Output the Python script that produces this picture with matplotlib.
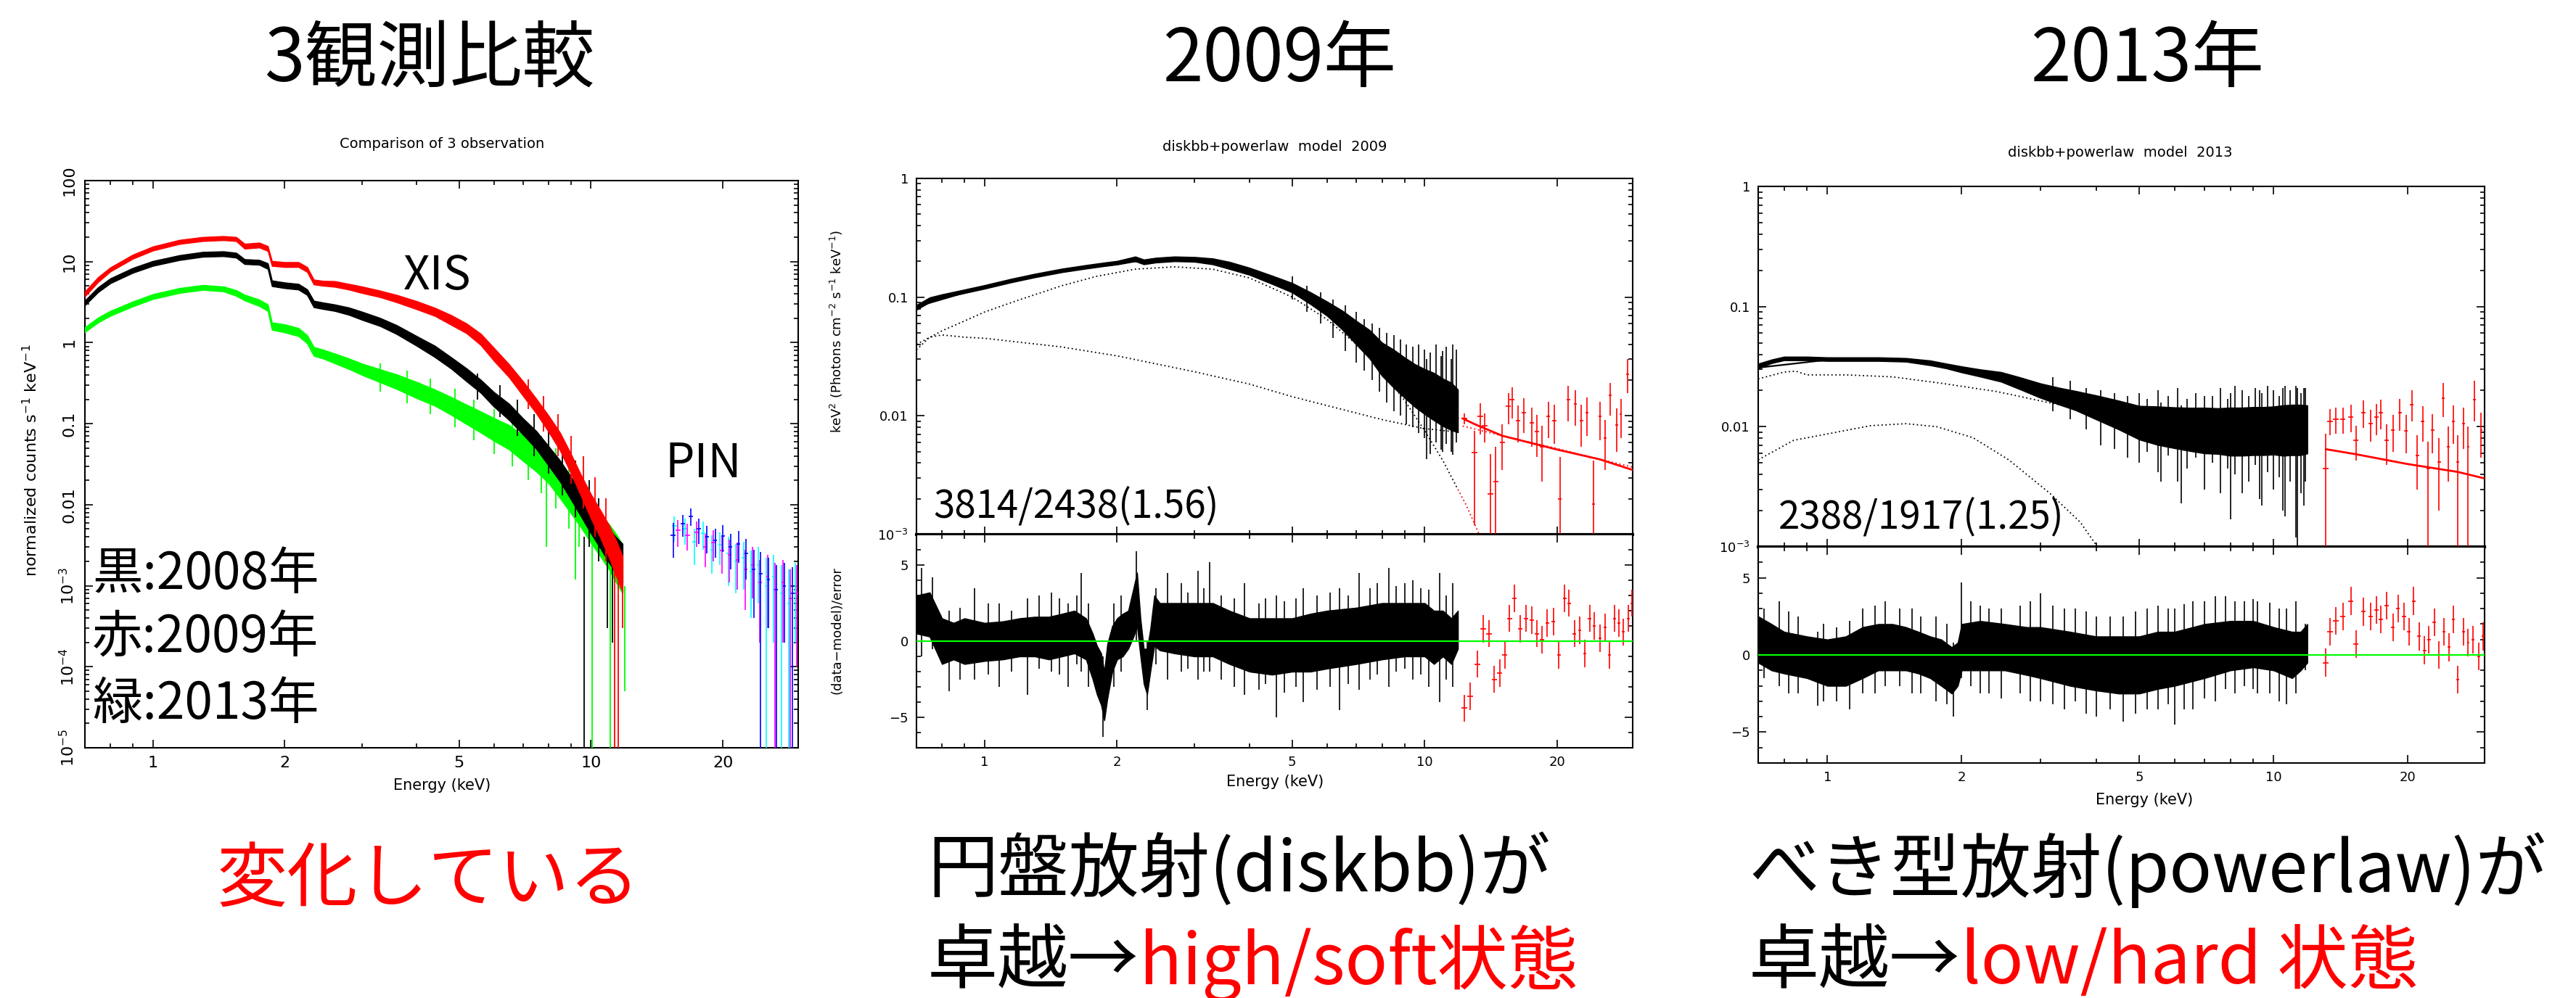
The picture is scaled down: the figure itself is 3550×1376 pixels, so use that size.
import numpy as np
import matplotlib
matplotlib.use('Agg')
import matplotlib.pyplot as plt
from matplotlib.ticker import LogLocator, NullFormatter, MultipleLocator
from matplotlib.transforms import Bbox

W, H = 3550, 1376
CJK = ['Noto Sans CJK JP', 'DejaVu Sans']

# ---------------- left panel: 3 observations (counts) ----------------
XIS_E = [0.70, 0.75, 0.80, 0.90, 1.00, 1.15, 1.30, 1.45, 1.55, 1.62, 1.75, 1.83, 1.87, 2.00,
         2.15, 2.25, 2.33, 2.45, 2.60, 2.80, 3.00, 3.30, 3.60, 4.00, 4.40, 4.80, 5.20, 5.60,
         6.00, 6.50, 7.00, 7.50, 8.00, 8.50, 9.00, 9.50, 10.0, 10.5, 11.0, 11.4, 11.8]
RED_V = [4.0, 6.0, 8.0, 11.5, 14.5, 17.5, 19.0, 19.5, 19.0, 15.5, 16.0, 14.5, 9.5, 9.2,
         9.2, 8.0, 5.6, 5.4, 5.3, 4.9, 4.5, 4.0, 3.5, 2.9, 2.4, 1.9, 1.5, 1.1,
         0.72, 0.45, 0.27, 0.165, 0.10, 0.06, 0.032, 0.017, 0.0095, 0.0058, 0.0035, 0.0022, 0.0014]
BLACK_V = [3.1, 4.5, 5.8, 7.8, 9.5, 11.2, 12.3, 12.5, 12.0, 10.0, 9.8, 8.8, 5.4, 5.1,
           4.9, 4.2, 3.0, 2.85, 2.7, 2.45, 2.15, 1.8, 1.45, 1.05, 0.78, 0.56, 0.40, 0.29,
           0.20, 0.14, 0.092, 0.063, 0.040, 0.026, 0.016, 0.010, 0.0065, 0.0045, 0.0031, 0.0024, 0.0019]
GREEN_V = [1.45, 1.9, 2.3, 3.0, 3.7, 4.4, 4.8, 4.6, 4.1, 3.6, 3.1, 2.7, 1.6, 1.5,
           1.35, 1.1, 0.78, 0.72, 0.64, 0.55, 0.47, 0.39, 0.33, 0.26, 0.21, 0.165, 0.13, 0.105,
           0.085, 0.068, 0.050, 0.038, 0.028, 0.019, 0.013, 0.009, 0.006, 0.0042, 0.003, 0.0022, 0.0016]
# half-width of the scatter band (dex)
RED_S = [0.03, 0.03, 0.025, 0.025, 0.025, 0.025, 0.025, 0.025, 0.025, 0.03, 0.03, 0.03, 0.03, 0.03,
         0.03, 0.03, 0.03, 0.03, 0.035, 0.035, 0.04, 0.04, 0.045, 0.05, 0.05, 0.06, 0.06, 0.07,
         0.08, 0.08, 0.09, 0.09, 0.1, 0.11, 0.12, 0.13, 0.15, 0.17, 0.2, 0.22, 0.22]
BLACK_S = [0.03, 0.03, 0.03, 0.03, 0.03, 0.03, 0.03, 0.03, 0.03, 0.03, 0.03, 0.035, 0.035, 0.035,
           0.035, 0.035, 0.04, 0.04, 0.04, 0.045, 0.05, 0.05, 0.055, 0.06, 0.07, 0.07, 0.08, 0.08,
           0.09, 0.1, 0.1, 0.11, 0.12, 0.13, 0.14, 0.15, 0.17, 0.19, 0.21, 0.22, 0.24]
GREEN_S = [0.03, 0.03, 0.03, 0.03, 0.03, 0.03, 0.03, 0.03, 0.035, 0.035, 0.04, 0.04, 0.045, 0.05,
           0.05, 0.05, 0.055, 0.055, 0.06, 0.065, 0.07, 0.08, 0.09, 0.1, 0.1, 0.11, 0.12, 0.13,
           0.14, 0.15, 0.16, 0.17, 0.18, 0.2, 0.22, 0.24, 0.25, 0.26, 0.28, 0.3, 0.3]
# individual error bars sticking out of the bands (E, low, high)
BLACK_SPK_E = [9.65, 10.9, 11.2, 5.5, 6.2, 6.8, 7.4, 8.0, 8.6, 9.2, 9.9, 10.4]
BLACK_SPK_LO = [1e-5, 3e-4, 2e-4, 0.2, 0.12, 0.07, 0.04, 0.024, 0.013, 0.007, 0.003, 0.002]
BLACK_SPK_HI = [0.004, 0.003, 0.002, 0.42, 0.3, 0.2, 0.13, 0.085, 0.055, 0.035, 0.02, 0.012]
GREEN_SPK_E = [7.9, 9.2, 10.05, 11.05, 11.95, 3.3, 3.8, 4.3, 4.9, 5.4, 6.0, 6.6, 7.2, 7.7, 8.3, 8.9, 9.4]
GREEN_SPK_LO = [0.003, 0.0012, 1e-5, 1e-5, 5e-5, 0.25, 0.18, 0.13, 0.09, 0.062, 0.042, 0.03, 0.02, 0.014, 0.009, 0.005, 0.003]
GREEN_SPK_HI = [0.03, 0.01, 0.004, 0.002, 0.001, 0.55, 0.45, 0.36, 0.27, 0.2, 0.15, 0.12, 0.09, 0.07, 0.05, 0.035, 0.025]
RED_SPK_E = [11.3, 11.55, 11.8, 7.2, 7.8, 8.4, 9.0, 9.6, 10.2, 10.8]
RED_SPK_LO = [1e-5, 1e-5, 3e-4, 0.15, 0.08, 0.04, 0.018, 0.009, 0.004, 0.002]
RED_SPK_HI = [0.004, 0.003, 0.002, 0.35, 0.22, 0.13, 0.07, 0.04, 0.022, 0.012]

PIN_XERR = 0.2
BLUE_E = [15.4, 16.2, 16.9, 17.6, 18.4, 19.2, 20.0, 20.8, 21.7, 22.6, 23.5, 24.4, 25.4, 26.5, 27.6, 28.8]
BLUE_V = [0.0042, 0.0058, 0.0072, 0.0050, 0.0040, 0.0036, 0.0041, 0.0030, 0.0033, 0.0025, 0.0016, 0.0014, 0.0012, 0.0009, 0.0010, 0.0008]
BLUE_LO = [0.0022, 0.0040, 0.0055, 0.0033, 0.0025, 0.0022, 0.0026, 0.0016, 0.0019, 0.0012, 0.0004, 1e-5, 0.0003, 1e-5, 0.0002, 1e-5]
BLUE_HI = [0.0060, 0.0075, 0.0090, 0.0068, 0.0055, 0.0050, 0.0056, 0.0044, 0.0047, 0.0038, 0.0028, 0.0026, 0.0022, 0.0018, 0.0019, 0.0017]
CYAN_E = [15.5, 16.4, 17.2, 18.0, 18.9, 19.7, 20.6, 21.4, 22.3, 23.2, 24.1, 25.1, 26.1, 27.2, 28.3, 29.3]
CYAN_V = [0.0055, 0.0050, 0.0035, 0.0045, 0.0028, 0.0032, 0.0025, 0.0020, 0.0022, 0.0015, 0.0018, 0.0010, 0.0013, 0.0008, 0.0006, 0.0009]
CYAN_LO = [0.0035, 0.0032, 0.0018, 0.0028, 0.0014, 0.0018, 0.0010, 0.0008, 0.0009, 0.0004, 0.0006, 1e-5, 0.0002, 1e-5, 1e-5, 0.0002]
CYAN_HI = [0.0072, 0.0068, 0.0050, 0.0062, 0.0042, 0.0046, 0.0040, 0.0033, 0.0035, 0.0027, 0.0030, 0.0022, 0.0024, 0.0018, 0.0016, 0.0019]
MAG_E = [15.8, 16.6, 17.4, 18.2, 19.0, 19.9, 20.7, 21.6, 22.5, 23.4, 24.3, 25.3, 26.3, 27.4, 28.5, 29.5]
MAG_V = [0.0048, 0.0042, 0.0046, 0.0030, 0.0034, 0.0027, 0.0024, 0.0021, 0.0016, 0.0018, 0.0011, 0.0013, 0.0009, 0.0011, 0.0007, 0.0008]
MAG_LO = [0.0030, 0.0027, 0.0030, 0.0017, 0.0020, 0.0014, 0.0011, 0.0009, 0.0005, 0.0007, 0.0002, 0.0003, 1e-5, 0.0002, 1e-5, 0.0001]
MAG_HI = [0.0065, 0.0058, 0.0062, 0.0044, 0.0048, 0.0040, 0.0037, 0.0034, 0.0028, 0.0030, 0.0021, 0.0024, 0.0019, 0.0021, 0.0016, 0.0018]

# ---------------- middle panel: 2009 fit ----------------
MID_E = [0.70, 0.75, 0.80, 0.90, 1.00, 1.15, 1.30, 1.50, 1.70, 1.85, 2.00, 2.20, 2.30, 2.45, 2.70, 3.00, 3.30, 3.60,
         4.00, 4.50, 5.00, 5.50, 6.00, 6.50, 7.00, 7.50, 8.00, 8.50, 9.00, 9.50, 10.0, 10.5, 11.0, 11.5, 11.9]
MID_V = [0.082, 0.095, 0.102, 0.112, 0.122, 0.138, 0.152, 0.168, 0.180, 0.188, 0.195, 0.210, 0.198, 0.205, 0.210, 0.208, 0.200, 0.185,
         0.165, 0.140, 0.120, 0.098, 0.080, 0.064, 0.050, 0.040, 0.030, 0.025, 0.021, 0.018, 0.016, 0.0145, 0.013, 0.012, 0.011]
MID_S = [0.02, 0.02, 0.015, 0.015, 0.015, 0.015, 0.015, 0.015, 0.015, 0.015, 0.015, 0.02, 0.02, 0.02, 0.02, 0.02, 0.025, 0.03,
         0.03, 0.035, 0.04, 0.05, 0.06, 0.08, 0.1, 0.12, 0.14, 0.16, 0.17, 0.18, 0.19, 0.2, 0.2, 0.2, 0.18]
MID_SPK_E = [5.0, 5.4, 5.8, 6.2, 6.6, 7.0, 7.3, 7.6, 7.9, 8.2, 8.5, 8.8, 9.1, 9.4, 9.7, 10.0, 10.3, 10.6,
             10.9, 11.2, 11.5, 11.8, 10.1, 11.0, 11.6]
MID_SPK_LO = [0.095, 0.075, 0.06, 0.045, 0.035, 0.028, 0.024, 0.02, 0.016, 0.013, 0.011, 0.01, 0.0085, 0.008, 0.0072, 0.0065,
              0.0048, 0.006, 0.0052, 0.0058, 0.005, 0.006, 0.0043, 0.005, 0.0047]
MID_SPK_HI = [0.15, 0.125, 0.11, 0.095, 0.085, 0.075, 0.065, 0.06, 0.055, 0.05, 0.048, 0.044, 0.04, 0.038, 0.04, 0.036,
              0.034, 0.04, 0.032, 0.038, 0.03, 0.036, 0.03, 0.035, 0.04]
MID_MOD_E = [0.70, 1.00, 1.50, 2.00, 2.50, 3.00, 3.50, 4.00, 5.00, 6.00, 7.00, 8.00, 9.00, 10.0, 11.0, 11.9]
MID_MOD_V = [0.083, 0.122, 0.166, 0.196, 0.205, 0.207, 0.195, 0.172, 0.120, 0.078, 0.050, 0.032, 0.021, 0.015, 0.0115, 0.0095]
MID_DISK_E = [0.70, 0.80, 0.90, 1.00, 1.20, 1.50, 1.80, 2.20, 2.70, 3.30, 4.00, 5.00, 6.00, 7.00, 8.00, 9.00, 10.0, 11.0, 11.9]
MID_DISK_V = [0.040, 0.052, 0.063, 0.075, 0.095, 0.125, 0.150, 0.172, 0.180, 0.172, 0.145, 0.100, 0.065, 0.040, 0.024, 0.0135, 0.0075, 0.0042, 0.0024]
MID_PL_E = [0.70, 0.75, 0.80, 0.90, 1.00, 1.50, 2.00, 3.00, 4.00, 5.00, 6.00, 8.00, 10.0, 11.9]
MID_PL_V = [0.036, 0.046, 0.048, 0.046, 0.045, 0.038, 0.032, 0.0235, 0.0185, 0.0145, 0.0122, 0.0093, 0.0078, 0.0073]
MID_PIN_MOD_E = [12.2, 13.0, 15.0, 20.0, 25.0, 29.7]
MID_PIN_MOD_V = [0.0095, 0.0085, 0.0068, 0.0052, 0.0043, 0.0035]
MID_PIN_PL_E = [12.2, 15.0, 20.0, 25.0, 29.7]
MID_PIN_PL_V = [0.0082, 0.0068, 0.0053, 0.0043, 0.0037]
MID_PIN_DISK_E = [11.9, 12.4, 12.9, 13.3]
MID_PIN_DISK_V = [0.0024, 0.0018, 0.0013, 0.0010]
MID_PIN_E = [12.3, 13.0, 13.4, 13.7, 14.1, 14.5, 15.0, 15.5, 15.8, 16.3, 16.8, 17.5, 18.0, 18.5,
             19.1, 19.7, 20.3, 21.2, 22.0, 22.7, 23.4, 24.2, 25.0, 25.7, 26.4, 27.3, 27.9, 28.9]
MID_PIN_V = [0.0095, 0.0049, 0.0099, 0.0082, 0.0022, 0.0028, 0.0060, 0.0120, 0.0137, 0.0091, 0.0106, 0.0087, 0.0074, 0.0055,
             0.0099, 0.0091, 0.0020, 0.0137, 0.0126, 0.0091, 0.0106, 0.0018, 0.0099, 0.0065, 0.0148, 0.0084, 0.0103, 0.0224]
MID_PIN_LO = [0.0085, 0.0012, 0.0070, 0.0060, 0.0010, 0.0010, 0.0035, 0.0085, 0.0095, 0.0060, 0.0072, 0.0055, 0.0045, 0.0028,
              0.0065, 0.0058, 0.0010, 0.0090, 0.0082, 0.0055, 0.0068, 0.0010, 0.0062, 0.0035, 0.0100, 0.0050, 0.0065, 0.0155]
MID_PIN_HI = [0.0105, 0.0075, 0.0128, 0.0105, 0.0048, 0.0055, 0.0085, 0.0155, 0.0175, 0.0122, 0.0140, 0.0118, 0.0102, 0.0082,
              0.0132, 0.0124, 0.0045, 0.0178, 0.0165, 0.0124, 0.0142, 0.0042, 0.0132, 0.0092, 0.0190, 0.0115, 0.0138, 0.0300]
# residuals
MID_RES_E = [0.70, 0.75, 0.80, 0.85, 0.90, 1.00, 1.10, 1.20, 1.30, 1.40, 1.50, 1.60, 1.70, 1.76, 1.80, 1.84,
             1.87, 1.90, 1.95, 2.00, 2.06, 2.12, 2.18, 2.22, 2.26, 2.30, 2.34, 2.38, 2.43, 2.50, 2.70, 3.00,
             3.30, 3.60, 4.00, 4.50, 5.00, 5.50, 6.00, 7.00, 8.00, 9.00, 10.0, 10.5, 11.0, 11.5, 11.9]
MID_RES_LO = [0.5, 0.3, -1.5, -1.2, -1.5, -1.3, -1.2, -1.0, -1.0, -1.2, -1.0, -0.8, -1.2, -2.5, -3.5, -4.2,
              -5.2, -3.8, -2.0, -1.2, -1.0, -0.5, 0.3, 1.0, -1.0, -2.8, -3.5, -2.0, -0.3, -0.6, -0.8, -1.0,
              -1.0, -1.5, -2.0, -2.2, -2.0, -2.0, -1.8, -1.5, -1.2, -1.0, -1.0, -1.5, -1.0, -1.5, -0.5]
MID_RES_HI = [3.0, 3.2, 1.5, 1.2, 1.5, 1.2, 1.3, 1.5, 1.6, 1.6, 1.8, 2.0, 1.5, 0.5, -0.3, -0.8,
              -2.0, -0.2, 1.0, 1.5, 1.8, 2.0, 3.5, 4.5, 1.5, -0.5, -0.5, 0.8, 3.0, 2.5, 2.5, 2.5,
              2.5, 2.0, 1.5, 1.5, 1.5, 1.8, 2.0, 2.2, 2.5, 2.5, 2.5, 2.0, 2.0, 1.5, 2.0]
MID_RES_SPK_E = [0.72, 0.76, 0.83, 0.95, 1.08, 1.25, 1.42, 1.55, 1.66, 1.86, 2.21, 2.34,
                 2.6, 3.05, 3.25, 3.9, 4.6, 5.3, 6.4, 7.1, 8.3, 9.4, 10.8, 11.6,
                 0.88, 1.02, 1.15, 1.33, 1.48, 1.62, 1.72, 1.97, 2.04, 2.45, 2.8, 2.9, 3.15, 3.45, 3.7,
                 4.2, 4.35, 4.8, 5.1, 5.7, 6.1, 6.7, 7.5, 7.8, 8.6, 9.0, 9.8, 10.2, 11.2]
MID_RES_SPK_LO = [-1.0, -0.5, -3.3, -2.5, -3.0, -3.5, -2.0, -3.0, -2.0, -6.3, 0.0, -4.5,
                  -2.5, -2.5, -2.0, -3.5, -5.0, -4.0, -4.5, -3.2, -3.0, -2.5, -4.0, -3.0,
                  -2.5, -2.2, -2.0, -1.8, -2.2, -1.5, -3.0, -3.0, -2.0, -1.5, -2.0, -1.8, -2.0, -2.5, -3.0,
                  -3.2, -2.8, -3.4, -3.0, -3.2, -3.0, -2.8, -2.5, -2.2, -2.0, -1.8, -2.2, -3.0, -2.5]
MID_RES_SPK_HI = [4.8, 4.2, 2.0, 3.5, 2.5, 2.8, 3.2, 2.5, 4.5, -1.0, 5.9, 0.0,
                  4.5, 4.6, 5.2, 3.8, 3.0, 3.5, 3.5, 4.5, 4.8, 4.0, 4.5, 3.8,
                  2.2, 2.5, 2.0, 3.0, 2.8, 3.0, 2.5, 2.5, 3.0, 3.5, 3.8, 3.2, 3.5, 3.0, 2.8,
                  2.5, 2.8, 2.6, 2.8, 3.0, 3.2, 3.0, 3.5, 3.8, 3.6, 3.8, 3.5, 3.4, 3.0]
MID_RES_PIN_E = [12.3, 12.7, 13.2, 13.6, 14.0, 14.4, 14.8, 15.2, 15.6, 16.0, 16.5, 17.0, 17.5, 18.0, 18.5, 19.0, 19.6,
                 20.2, 20.8, 21.3, 21.9, 22.5, 23.1, 23.7, 24.3, 25.0, 25.7, 26.3, 27.0, 27.6, 28.3, 29.0, 29.6]
MID_RES_PIN_V = [-4.4, -3.6, -1.5, 0.8, 0.5, -2.5, -2.1, -0.9, 1.5, 2.8, 0.8, 1.5, 1.4, 0.5, 0.1, 1.2, 1.3,
                 -0.9, 2.8, 2.5, 0.5, 0.7, -0.8, 1.5, 1.0, 0.2, 0.9, -0.9, 1.5, 1.2, 0.6, 1.5, 2.5]
RES_PIN_ERR = 0.9

# ---------------- right panel: 2013 fit ----------------
RGT_E = [0.70, 0.75, 0.80, 0.90, 1.00, 1.15, 1.30, 1.50, 1.70, 1.85, 2.00, 2.20, 2.45, 2.70, 3.00, 3.30, 3.60,
         4.00, 4.50, 5.00, 5.50, 6.00, 6.50, 7.00, 7.50, 8.00, 8.50, 9.00, 9.50, 10.0, 10.5, 11.0, 11.5, 11.9]
RGT_V = [0.032, 0.035, 0.037, 0.037, 0.0365, 0.0365, 0.0365, 0.036, 0.034, 0.032, 0.030, 0.028, 0.026, 0.023, 0.020, 0.018, 0.0165,
         0.0145, 0.0125, 0.0108, 0.0102, 0.0098, 0.0095, 0.0093, 0.0092, 0.0091, 0.0091, 0.0092, 0.0092, 0.0093, 0.0093, 0.0094, 0.0094, 0.0095]
RGT_S = [0.02, 0.015, 0.015, 0.015, 0.015, 0.015, 0.015, 0.015, 0.02, 0.02, 0.025, 0.03, 0.04, 0.05, 0.06, 0.07, 0.08,
         0.1, 0.12, 0.14, 0.16, 0.17, 0.18, 0.19, 0.19, 0.2, 0.2, 0.2, 0.2, 0.2, 0.21, 0.21, 0.21, 0.2]
RGT_SPK_E = [5.6, 6.2, 7.0, 8.0, 8.5, 9.3, 10.5, 11.3, 11.7,
             3.2, 3.5, 3.8, 4.1, 4.4, 4.7, 5.0, 5.2, 5.5, 5.8, 6.1, 6.4, 6.7, 7.3, 7.6, 7.9,
             8.2, 8.8, 9.1, 9.4, 9.7, 10.0, 10.3, 10.6, 10.9, 11.2, 11.5, 11.8]
RGT_SPK_LO = [0.0035, 0.0023, 0.003, 0.0017, 0.0028, 0.0025, 0.002, 0.001, 0.0022,
              0.0135, 0.0115, 0.0095, 0.007, 0.0065, 0.0055, 0.005, 0.0062, 0.0042, 0.0058, 0.0035, 0.0045, 0.0055,
              0.005, 0.0028, 0.0045, 0.004, 0.0035, 0.0048, 0.0022, 0.0042, 0.003, 0.0038, 0.0018, 0.0035, 0.0012,
              0.0028, 0.0035]
RGT_SPK_HI = [0.016, 0.015, 0.018, 0.019, 0.02, 0.02, 0.021, 0.021, 0.021,
              0.026, 0.024, 0.021, 0.02, 0.019, 0.018, 0.019, 0.017, 0.02, 0.018, 0.021, 0.017, 0.019,
              0.018, 0.021, 0.017, 0.022, 0.018, 0.021, 0.019, 0.022, 0.02, 0.018, 0.022, 0.02, 0.022,
              0.019, 0.021]
RGT_MOD_E = [0.70, 1.00, 1.50, 2.00, 3.00, 4.00, 5.00, 6.00, 8.00, 10.0, 11.9]
RGT_MOD_V = [0.031, 0.036, 0.0365, 0.031, 0.0215, 0.015, 0.012, 0.0105, 0.0085, 0.0072, 0.0062]
RGT_PL_E = [0.70, 0.80, 0.85, 0.90, 1.10, 1.40, 1.80, 2.40, 3.10, 4.10, 5.30, 6.90, 9.00, 11.9]
RGT_PL_V = [0.025, 0.0285, 0.029, 0.027, 0.027, 0.026, 0.023, 0.0196, 0.016, 0.0131, 0.0106, 0.009, 0.0077, 0.0062]
RGT_DISK_E = [0.70, 0.84, 1.00, 1.25, 1.50, 1.76, 2.12, 2.55, 3.15, 3.69, 4.03]
RGT_DISK_V = [0.0053, 0.0077, 0.0087, 0.0102, 0.0106, 0.0100, 0.0081, 0.0053, 0.0028, 0.0016, 0.0010]
RGT_PIN_MOD_E = [13.1, 15.3, 19.9, 25.9, 29.8]
RGT_PIN_MOD_V = [0.0065, 0.0059, 0.0049, 0.0042, 0.0037]
RGT_PIN_E = [13.1, 13.4, 13.8, 14.3, 14.9, 15.3, 15.9, 16.5, 17.0, 17.4, 17.9, 18.5, 19.2, 19.8,
             20.4, 21.0, 21.6, 22.2, 22.7, 23.5, 24.0, 24.6, 25.3, 25.9, 26.6, 27.3, 28.2, 29.2]
RGT_PIN_V = [0.0045, 0.0111, 0.0115, 0.0115, 0.0120, 0.0077, 0.0131, 0.0106, 0.0120, 0.0131, 0.0077, 0.0094, 0.0131, 0.0093,
             0.0153, 0.0058, 0.0111, 0.0045, 0.0094, 0.0051, 0.0173, 0.0068, 0.0111, 0.0051, 0.0106, 0.0068, 0.0167, 0.0094]
RGT_PIN_LO = [0.0010, 0.0085, 0.0088, 0.0088, 0.0090, 0.0052, 0.0098, 0.0075, 0.0085, 0.0095, 0.0048, 0.0062, 0.0092, 0.0060,
              0.0110, 0.0030, 0.0075, 0.0010, 0.0060, 0.0020, 0.0120, 0.0035, 0.0072, 0.0010, 0.0065, 0.0010, 0.0110, 0.0055]
RGT_PIN_HI = [0.0088, 0.0140, 0.0145, 0.0145, 0.0152, 0.0102, 0.0165, 0.0138, 0.0155, 0.0168, 0.0105, 0.0125, 0.0170, 0.0125,
              0.0200, 0.0085, 0.0148, 0.0075, 0.0128, 0.0080, 0.0230, 0.0100, 0.0150, 0.0085, 0.0145, 0.0100, 0.0240, 0.0130]
RGT_RES_E = [0.70, 0.75, 0.80, 0.90, 1.00, 1.10, 1.20, 1.30, 1.40, 1.50, 1.60, 1.70, 1.80, 1.90, 1.96, 2.00, 2.20,
             2.50, 2.80, 3.00, 3.50, 4.00, 4.50, 5.00, 5.50, 6.00, 7.00, 8.00, 9.00, 10.0, 11.0, 11.5, 11.9]
RGT_RES_LO = [-0.5, -1.0, -1.2, -1.5, -2.0, -2.0, -1.5, -1.0, -1.0, -1.0, -1.2, -1.5, -2.0, -2.5, -2.0, -1.0, -1.0,
              -1.0, -1.3, -1.5, -2.0, -2.3, -2.5, -2.5, -2.2, -2.0, -1.5, -1.0, -0.8, -1.0, -1.5, -1.0, -0.5]
RGT_RES_HI = [2.5, 2.0, 1.5, 1.2, 1.0, 1.2, 1.8, 2.0, 2.0, 1.8, 1.5, 1.2, 1.0, 0.5, 0.8, 2.0, 2.2,
              2.0, 1.8, 1.8, 1.5, 1.2, 1.2, 1.2, 1.5, 1.5, 2.0, 2.2, 2.2, 1.8, 1.5, 1.5, 2.0]
RGT_RES_SPK_E = [0.72, 0.78, 0.86, 0.95, 1.05, 1.2, 1.35, 1.55, 1.75, 1.92, 2.0, 2.3, 2.7,
                 3.0, 3.4, 4.0, 4.6, 5.2, 6.0, 6.6, 7.4, 8.2, 9.2, 10.3, 11.2, 11.8,
                 0.82, 0.98, 1.12, 1.28, 1.45, 1.62, 1.85, 2.1, 2.2, 2.45, 2.85, 3.2, 3.6,
                 3.8, 4.3, 4.9, 5.5, 5.8, 6.3, 7.0, 7.8, 8.6, 9.0, 9.8, 10.7]
RGT_RES_SPK_LO = [-1.5, -2.0, -2.5, -3.3, -3.0, -2.5, -2.0, -2.5, -3.0, -4.0, -1.5, -2.5, -2.5,
                  -3.0, -3.5, -4.0, -4.3, -3.5, -4.5, -3.5, -3.0, -2.5, -2.5, -3.0, -2.5, -1.0,
                  -2.5, -3.0, -3.5, -2.5, -2.0, -2.5, -3.2, -2.0, -2.5, -2.8, -3.0, -3.2, -3.0,
                  -3.8, -3.5, -3.8, -3.5, -3.2, -3.5, -2.8, -2.2, -2.0, -2.2, -2.5, -3.2]
RGT_RES_SPK_HI = [3.0, 3.5, 2.5, 1.5, 1.8, 3.0, 3.5, 3.0, 2.5, 0.8, 4.7, 3.0, 3.2,
                  4.0, 3.0, 2.5, 2.5, 3.0, 3.0, 3.5, 3.8, 3.5, 3.5, 3.0, 3.5, 2.0,
                  2.8, 2.0, 2.2, 3.2, 3.0, 2.5, 2.0, 3.5, 3.2, 3.0, 3.5, 3.2, 3.0,
                  2.8, 2.5, 2.8, 3.2, 3.0, 3.3, 3.5, 3.8, 3.5, 3.6, 3.4, 3.0]
RGT_RES_PIN_E = [13.1, 13.4, 13.8, 14.3, 14.9, 15.3, 15.9, 16.5, 17.0, 17.4, 17.9, 18.5, 19.0, 19.6, 20.1,
                 20.6, 21.2, 21.8, 22.3, 22.9, 23.5, 24.1, 24.7, 25.3, 25.9, 26.6, 27.3, 28.0, 28.8, 29.5]
RGT_RES_PIN_V = [-0.5, 1.5, 2.2, 2.5, 3.5, 0.7, 2.8, 2.5, 2.9, 2.3, 3.2, 1.8, 3.0, 2.5, 1.5,
                 3.5, 1.2, 0.3, 1.0, 2.1, 0.0, 1.5, 0.5, 2.3, -1.6, 1.5, 0.8, 1.0, -0.1, 1.2]

X_TICKS = [1, 2, 5, 10, 20]
X_LABELS = ['1', '2', '5', '10', '20']


def rect(x0, y0, x1, y1):
    return [x0 / W, 1 - y1 / H, (x1 - x0) / W, (y1 - y0) / H]


def style(ax, show_x=True, size=14):
    ax.set_xscale('log')
    ax.set_xlim(0.7, 29.7)
    ax.set_xticks(X_TICKS, X_LABELS if show_x else [''] * 5)
    ax.xaxis.set_minor_locator(LogLocator(base=10, subs=np.arange(2, 10), numticks=20))
    ax.xaxis.set_minor_formatter(NullFormatter())
    ax.tick_params(which='both', direction='in', top=True, right=True, width=1.2,
                   labelsize=size, pad=8)
    ax.tick_params(which='major', length=8)
    ax.tick_params(which='minor', length=4)
    for sp in ax.spines.values():
        sp.set_linewidth(1.5)


def log_y(ax, lo, hi, labels):
    ax.set_yscale('log')
    ax.set_ylim(lo, hi)
    ax.set_yticks([10.0 ** k for k in range(int(np.log10(lo)), int(np.log10(hi)) + 1)], labels)
    ax.yaxis.set_minor_locator(LogLocator(base=10, subs=np.arange(2, 10), numticks=20))
    ax.yaxis.set_minor_formatter(NullFormatter())


def band(ax, e, v, s, color):
    v = np.asarray(v)
    s = np.asarray(s)
    ax.fill_between(e, v / 10 ** s, v * 10 ** s, color=color, lw=1.0, zorder=3)


def resid_axes(ax):
    ax.set_ylim(-7, 7)
    ax.set_yticks([-5, 0, 5], ['\u22125', '0', '5'])
    ax.yaxis.set_minor_locator(MultipleLocator(1))
    ax.axhline(0, color='#00FF00', lw=1.6, zorder=5)


fig = plt.figure(figsize=(W / 100, H / 100), dpi=100)
bg = fig.add_axes([0, 0, 1, 1])
bg.axis('off')
bg.set_xlim(0, 1)
bg.set_ylim(0, 1)

# ---------------- left panel ----------------
axL = fig.add_axes(rect(117, 249, 1100, 1031))
style(axL, size=16)
log_y(axL, 1e-5, 100, ['10$^{-5}$', '10$^{-4}$', '10$^{-3}$', '0.01', '0.1', '1', '10', '100'])
axL.tick_params(axis='y', labelrotation=90)
for lab in axL.get_yticklabels():
    lab.set_verticalalignment('center')
band(axL, XIS_E, GREEN_V, GREEN_S, '#00FF00')
axL.vlines(GREEN_SPK_E, GREEN_SPK_LO, GREEN_SPK_HI, color='#00FF00', lw=1.3, zorder=3)
band(axL, XIS_E, BLACK_V, BLACK_S, 'black')
axL.vlines(BLACK_SPK_E, BLACK_SPK_LO, BLACK_SPK_HI, color='black', lw=1.3, zorder=3)
band(axL, XIS_E, RED_V, RED_S, '#FF0000')
axL.vlines(RED_SPK_E, RED_SPK_LO, RED_SPK_HI, color='#FF0000', lw=1.3, zorder=3)
for e, v, lo, hi, c in [(CYAN_E, CYAN_V, CYAN_LO, CYAN_HI, '#00FFFF'),
                        (MAG_E, MAG_V, MAG_LO, MAG_HI, '#FF00FF'),
                        (BLUE_E, BLUE_V, BLUE_LO, BLUE_HI, '#0000FF')]:
    v = np.asarray(v)
    axL.errorbar(e, v, yerr=[v - np.asarray(lo), np.asarray(hi) - v], xerr=PIN_XERR,
                 fmt='none', ecolor=c, elinewidth=1.2, zorder=4)

fig.text(609 / W, 1 - 198 / H, 'Comparison of 3 observation', ha='center', va='center', fontsize=14)
fig.text(43 / W, 1 - 635 / H, 'normalized counts s$^{-1}$ keV$^{-1}$', rotation=90,
         ha='center', va='center', fontsize=16)
fig.text(609 / W, 1 - 1083 / H, 'Energy (keV)', ha='center', va='center', fontsize=15)
fig.text(603 / W, 1 - 381 / H, 'XIS', ha='center', va='center', fontsize=46, family=CJK)
fig.text(969 / W, 1 - 640 / H, 'PIN', ha='center', va='center', fontsize=46, family=CJK)
for yy, s in [(792, '黒:2008年'), (880, '赤:2009年'), (971, '緑:2013年')]:
    fig.text(127 / W, 1 - yy / H, s, ha='left', va='center', fontsize=50, family=CJK)

# ---------------- middle panel ----------------
axM = fig.add_axes(rect(1263, 246, 2250, 737))
axMr = fig.add_axes(rect(1263, 737, 2250, 1031))
style(axM, show_x=False, size=13)
style(axMr, size=13)
log_y(axM, 1e-3, 1, ['10$^{-3}$', '0.01', '0.1', '1'])
axM.spines['bottom'].set_linewidth(3)
band(axM, MID_E, MID_V, MID_S, 'black')
axM.vlines(MID_SPK_E, MID_SPK_LO, MID_SPK_HI, color='black', lw=1.2, zorder=4)
axM.plot(MID_MOD_E, MID_MOD_V, color='black', lw=1.6, zorder=5)
axM.plot(MID_DISK_E, MID_DISK_V, color='black', lw=1.3, ls=(0, (1, 2)), zorder=4)
axM.plot(MID_PL_E, MID_PL_V, color='black', lw=1.3, ls=(0, (1, 2)), zorder=4)
axM.plot(MID_PIN_MOD_E, MID_PIN_MOD_V, color='#FF0000', lw=2.0, zorder=5)
axM.plot(MID_PIN_PL_E, MID_PIN_PL_V, color='#FF0000', lw=1.3, ls=(0, (1, 2)), zorder=4)
axM.plot(MID_PIN_DISK_E, MID_PIN_DISK_V, color='#FF0000', lw=1.3, ls=(0, (1, 2)), zorder=4)
v = np.asarray(MID_PIN_V)
axM.errorbar(MID_PIN_E, v, yerr=[v - np.asarray(MID_PIN_LO), np.asarray(MID_PIN_HI) - v],
             xerr=PIN_XERR, fmt='none', ecolor='#FF0000', elinewidth=1.2, zorder=4)
resid_axes(axMr)
axMr.fill_between(MID_RES_E, MID_RES_LO, MID_RES_HI, color='black', lw=1.0, zorder=3)
axMr.vlines(MID_RES_SPK_E, MID_RES_SPK_LO, MID_RES_SPK_HI, color='black', lw=1.2, zorder=3)
axMr.errorbar(MID_RES_PIN_E, MID_RES_PIN_V, yerr=RES_PIN_ERR, xerr=PIN_XERR, fmt='none',
              ecolor='#FF0000', elinewidth=1.2, zorder=4)

fig.text(1757 / W, 1 - 202 / H, 'diskbb+powerlaw  model  2009', ha='center', va='center', fontsize=14)
fig.text(1153 / W, 1 - 457 / H, 'keV$^{2}$ (Photons cm$^{-2}$ s$^{-1}$ keV$^{-1}$)', rotation=90,
         ha='center', va='center', fontsize=13)
fig.text(1153 / W, 1 - 869 / H, '(data\u2212model)/error', rotation=90,
         ha='center', va='center', fontsize=13)
fig.text(1757 / W, 1 - 1078 / H, 'Energy (keV)', ha='center', va='center', fontsize=15)
fig.text(1286 / W, 1 - 698 / H, '3814/2438(1.56)', ha='left', va='center', fontsize=38, family=CJK)

# ---------------- right panel ----------------
axR = fig.add_axes(rect(2423, 257, 3424, 754))
axRr = fig.add_axes(rect(2423, 754, 3424, 1052))
style(axR, show_x=False, size=13)
style(axRr, size=13)
log_y(axR, 1e-3, 1, ['10$^{-3}$', '0.01', '0.1', '1'])
axR.spines['bottom'].set_linewidth(3)
band(axR, RGT_E, RGT_V, RGT_S, 'black')
axR.vlines(RGT_SPK_E, RGT_SPK_LO, RGT_SPK_HI, color='black', lw=1.2, zorder=4)
axR.plot(RGT_MOD_E, RGT_MOD_V, color='black', lw=1.6, zorder=5)
axR.plot(RGT_PL_E, RGT_PL_V, color='black', lw=1.3, ls=(0, (1, 2)), zorder=4)
axR.plot(RGT_DISK_E, RGT_DISK_V, color='black', lw=1.3, ls=(0, (1, 2)), zorder=4)
axR.plot(RGT_PIN_MOD_E, RGT_PIN_MOD_V, color='#FF0000', lw=2.0, zorder=5)
v = np.asarray(RGT_PIN_V)
axR.errorbar(RGT_PIN_E, v, yerr=[v - np.asarray(RGT_PIN_LO), np.asarray(RGT_PIN_HI) - v],
             xerr=PIN_XERR, fmt='none', ecolor='#FF0000', elinewidth=1.2, zorder=4)
resid_axes(axRr)
axRr.fill_between(RGT_RES_E, RGT_RES_LO, RGT_RES_HI, color='black', lw=1.0, zorder=3)
axRr.vlines(RGT_RES_SPK_E, RGT_RES_SPK_LO, RGT_RES_SPK_HI, color='black', lw=1.2, zorder=3)
axRr.errorbar(RGT_RES_PIN_E, RGT_RES_PIN_V, yerr=RES_PIN_ERR, xerr=PIN_XERR, fmt='none',
              ecolor='#FF0000', elinewidth=1.2, zorder=4)
# the 2013 plot was cropped on its left: the "0.01" tick label is cut
crop = Bbox.from_extents(2368, 0, W, H)
for lab in axR.get_yticklabels():
    lab.set_clip_on(True)
    lab.set_clip_box(crop)

fig.text(2922 / W, 1 - 211 / H, 'diskbb+powerlaw  model  2013', ha='center', va='center', fontsize=14)
fig.text(2955 / W, 1 - 1103 / H, 'Energy (keV)', ha='center', va='center', fontsize=15)
fig.text(2451 / W, 1 - 713 / H, '2388/1917(1.25)', ha='left', va='center', fontsize=38, family=CJK)

# ---------------- headings and comments ----------------
for x, s in [(592, '3観測比較'), (1763, '2009年'), (2959, '2013年')]:
    bg.text(x / W, 1 - 83 / H, s, ha='center', va='center', fontsize=72, family=CJK)
bg.text(590 / W, 1 - 1215 / H, '変化している', ha='center', va='center', fontsize=70,
        family=CJK, color='#FF0000')
for x, first, second, third in [(1278, '円盤放射(diskbb)が', '卓越→', 'high/soft状態'),
                                 (2410, 'べき型放射(powerlaw)が', '卓越→', 'low/hard 状態')]:
    bg.text(x / W, 1 - 1200 / H, first, ha='left', va='center', fontsize=70, family=CJK)
    t = bg.text(x / W, 1 - 1328 / H, second, ha='left', va='center', fontsize=70, family=CJK)
    bg.annotate(third, xy=(1, 0.5), xycoords=t, ha='left', va='center', fontsize=70,
                family=CJK, color='#FF0000')

fig.savefig('out.png', dpi=100)
